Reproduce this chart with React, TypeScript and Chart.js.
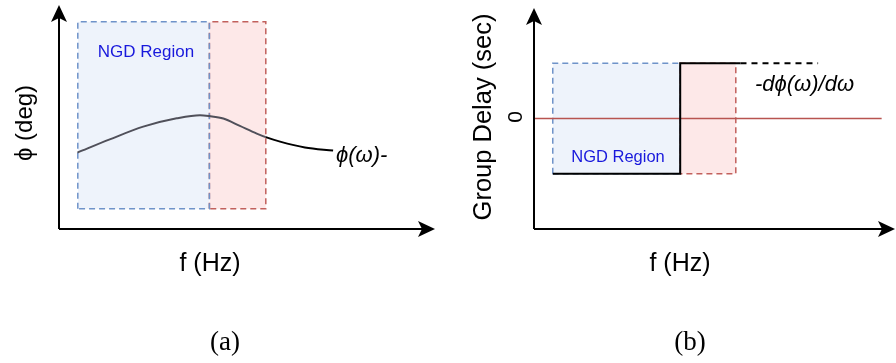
import React, { useEffect, useRef } from "react";
import { Chart, registerables } from "chart.js";
Chart.register(...registerables);

// ---------- Panel (a): phase response ----------
const aBlueX = [0.5, 4.0];
const aRedX = [4.0, 5.5];
const aRectY = [0.9, 9.25];
const aCurveX = [0.49, 1.35, 2.24, 3.13, 3.75, 4.0, 4.37, 4.81, 5.26, 5.5, 5.88, 6.54, 7.29];
const aCurveY = [3.41, 4.0, 4.57, 4.94, 5.08, 5.04, 4.93, 4.6, 4.26, 4.1, 3.9, 3.64, 3.5];
const aCurveSplitX = 5.5; // beyond the NGD boxes the curve is drawn black

// ---------- Panel (b): group delay ----------
const bBlueX = [0.52, 4.05];
const bRedX = [4.05, 5.59];
const bRectY = [-2.5, 2.5];
const bStepX = [0.52, 4.05, 4.05, 5.72];
const bStepY = [-2.5, -2.5, 2.5, 2.5];
const bDashX = [5.72, 7.87];
const bDashY = [2.5, 2.5];
const bZeroX = [0, 9.63];
const bZeroY = [0, 0];

const BLUE_FILL = "#eef3fb";
const RED_FILL = "#fde8e8";
const BLUE_BORDER = "#6f93c9";
const RED_BORDER = "#c2605c";
const SANS = "'Liberation Sans', Arial, sans-serif";

const pts = (xs: number[], ys: number[]) => xs.map((x, i) => ({ x, y: ys[i] }));

function rectFill(xs: number[], ys: number[], color: string) {
  return {
    data: [{ x: xs[0], y: ys[1] }, { x: xs[1], y: ys[1] }],
    fill: { target: { value: ys[0] } },
    backgroundColor: color,
    borderWidth: 0,
    pointRadius: 0,
    order: 10,
  };
}
function rectBorder(xs: number[], ys: number[], color: string) {
  return {
    data: [
      { x: xs[0], y: ys[0] },
      { x: xs[0], y: ys[1] },
      { x: xs[1], y: ys[1] },
      { x: xs[1], y: ys[0] },
      { x: xs[0], y: ys[0] },
    ],
    borderColor: color,
    borderWidth: 1.5,
    borderDash: [6, 4],
    fill: false,
    pointRadius: 0,
    order: 5,
  };
}

function arrowUp(ctx: CanvasRenderingContext2D, x: number, tipY: number) {
  ctx.beginPath();
  ctx.moveTo(x, tipY);
  ctx.lineTo(x + 8, tipY + 17);
  ctx.lineTo(x, tipY + 13);
  ctx.lineTo(x - 8, tipY + 17);
  ctx.closePath();
  ctx.fill();
}
function arrowRight(ctx: CanvasRenderingContext2D, tipX: number, y: number) {
  ctx.beginPath();
  ctx.moveTo(tipX, y);
  ctx.lineTo(tipX - 17, y - 8);
  ctx.lineTo(tipX - 13, y);
  ctx.lineTo(tipX - 17, y + 8);
  ctx.closePath();
  ctx.fill();
}

type Txt = { t: string; x: number; y: number; font: string; color?: string; rot?: boolean; align?: CanvasTextAlign };

function makePlugin(texts: Txt[]) {
  return {
    id: "decor",
    afterDraw(chart: any) {
      const ctx: CanvasRenderingContext2D = chart.ctx;
      const { left, right, top, bottom } = chart.chartArea;
      ctx.save();
      ctx.strokeStyle = "#000";
      ctx.fillStyle = "#000";
      ctx.lineWidth = 2;
      ctx.setLineDash([]);
      ctx.beginPath();
      ctx.moveTo(left, bottom);
      ctx.lineTo(left, top + 12);
      ctx.moveTo(left, bottom);
      ctx.lineTo(right - 12, bottom);
      ctx.stroke();
      arrowUp(ctx, left, top);
      arrowRight(ctx, right, bottom);
      for (const tx of texts) {
        ctx.save();
        ctx.font = tx.font;
        ctx.fillStyle = tx.color || "#000";
        ctx.textAlign = tx.align || "center";
        ctx.textBaseline = "middle";
        ctx.translate(tx.x, tx.y);
        if (tx.rot) ctx.rotate(-Math.PI / 2);
        ctx.fillText(tx.t, 0, 0);
        ctx.restore();
      }
      ctx.restore();
    },
  };
}

function Panel(props: { datasets: any[]; ymin: number; ymax: number; padding: any; texts: Txt[]; left: number }) {
  const ref = useRef<HTMLCanvasElement>(null);
  useEffect(() => {
    const chart = new Chart(ref.current!, {
      type: "line",
      data: { datasets: props.datasets },
      options: {
        animation: false,
        responsive: false,
        devicePixelRatio: 1,
        events: [],
        layout: { padding: props.padding },
        plugins: { legend: { display: false }, tooltip: { enabled: false } },
        scales: {
          x: { type: "linear", min: 0, max: 10, display: false },
          y: { type: "linear", min: props.ymin, max: props.ymax, display: false },
        },
      } as any,
      plugins: [makePlugin(props.texts)],
    });
    return () => chart.destroy();
  }, []);
  return (
    <canvas
      ref={ref}
      width={448}
      height={363}
      style={{ position: "absolute", left: props.left, top: 0, width: 448, height: 363 }}
    />
  );
}

export default function App() {
  const dsA = [
    rectFill(aBlueX, aRectY, BLUE_FILL),
    rectFill(aRedX, aRectY, RED_FILL),
    rectBorder(aBlueX, aRectY, BLUE_BORDER),
    rectBorder(aRedX, aRectY, RED_BORDER),
    {
      data: pts(aCurveX, aCurveY),
      borderColor: "#50505a",
      segment: {
        borderColor: (c: any) => (c.p0.parsed.x >= aCurveSplitX - 1e-9 ? "#000" : "#50505a"),
      },
      borderWidth: 2,
      cubicInterpolationMode: "monotone",
      pointRadius: 0,
      fill: false,
      order: 1,
    },
  ];
  const dsB = [
    rectFill(bBlueX, bRectY, BLUE_FILL),
    rectFill(bRedX, bRectY, RED_FILL),
    rectBorder(bBlueX, bRectY, BLUE_BORDER),
    rectBorder(bRedX, bRectY, RED_BORDER),
    { data: pts(bZeroX, bZeroY), borderColor: "#b85450", borderWidth: 1.5, pointRadius: 0, fill: false, order: 4 },
    { data: pts(bStepX, bStepY), borderColor: "#000", borderWidth: 2, pointRadius: 0, fill: false, order: 1 },
    {
      data: pts(bDashX, bDashY),
      borderColor: "#000",
      borderWidth: 2,
      borderDash: [6, 5],
      pointRadius: 0,
      fill: false,
      order: 1,
    },
  ];
  const textsA: Txt[] = [
    { t: "NGD Region", x: 146, y: 52, font: `17px ${SANS}`, color: "#1818dc" },
    { t: "ϕ (deg)", x: 25, y: 123, font: `24px ${SANS}`, rot: true },
    { t: "f (Hz)", x: 210, y: 264, font: `25px ${SANS}` },
    { t: "ϕ(ω)-", x: 336, y: 156, font: `italic 22px ${SANS}`, align: "left" },
    { t: "(a)", x: 225, y: 343, font: `27px 'Liberation Serif', serif` },
  ];
  const textsB: Txt[] = [
    { t: "Group Delay (sec)", x: 484 - 448, y: 117, font: `25.5px ${SANS}`, rot: true },
    { t: "0", x: 516 - 448, y: 117, font: `21px ${SANS}`, rot: true },
    { t: "NGD Region", x: 618 - 448, y: 157, font: `16.5px ${SANS}`, color: "#1818dc" },
    { t: "-dϕ(ω)/dω", x: 755 - 448, y: 85, font: `italic 22px ${SANS}`, align: "left" },
    { t: "f (Hz)", x: 680 - 448, y: 264, font: `25px ${SANS}` },
    { t: "(b)", x: 690 - 448, y: 343, font: `27px 'Liberation Serif', serif` },
  ];
  return (
    <div style={{ position: "fixed", left: 0, top: 0, width: 896, height: 363, background: "#fff" }}>
      <Panel datasets={dsA} ymin={0} ymax={10} padding={{ left: 59, right: 13, top: 5, bottom: 134 }} texts={textsA} left={0} />
      <Panel datasets={dsB} ymin={-5} ymax={5} padding={{ left: 86, right: 1, top: 8, bottom: 134 }} texts={textsB} left={448} />
    </div>
  );
}
